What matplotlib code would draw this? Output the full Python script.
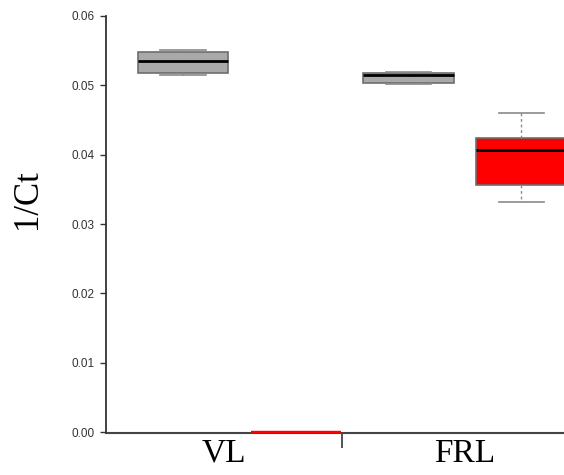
import matplotlib
matplotlib.use("Agg")
import matplotlib.pyplot as plt

# Data: five-number summaries (whisker low, Q1, median, Q3, whisker high)
groups = ["VL", "FRL"]
positions = [1, 2, 3, 4]
box_colors = ["#a9a9a9", "#ff0000", "#a9a9a9", "#ff0000"]
whislo = [0.05154, 0.0, 0.05015, 0.03322]
q1 = [0.05178, 0.0, 0.05038, 0.03563]
med = [0.05351, 0.0, 0.05145, 0.04068]
q3 = [0.05481, 0.0, 0.05174, 0.04245]
whishi = [0.05505, 0.0, 0.05197, 0.04606]
yticks = [0.00, 0.01, 0.02, 0.03, 0.04, 0.05, 0.06]
group_label_pos = [1.364, 3.50]
divider_pos = [2.41]

W, H = 564, 475
fig = plt.figure(figsize=(W / 100, H / 100), dpi=100)
ax = fig.add_axes([106 / W, (H - 435.5) / H, (W - 106) / W, 423 / H])

for i, p in enumerate(positions):
    stats = [dict(whislo=whislo[i], q1=q1[i], med=med[i], q3=q3[i],
                  whishi=whishi[i], fliers=[])]
    zero = q3[i] == q1[i] == 0
    ax.bxp(stats, positions=[p], widths=0.8, patch_artist=True,
           showfliers=False, capwidths=0.4,
           boxprops=dict(facecolor=box_colors[i],
                         edgecolor=box_colors[i] if zero else "#6e6e6e",
                         linewidth=1.2 if not zero else 1.6),
           medianprops=dict(color=box_colors[i] if zero else "black",
                            linewidth=2.0 if not zero else 1.6),
           whiskerprops=dict(color="#8a8a8a", linestyle=(0, (2, 2)), linewidth=1.0),
           capprops=dict(color="#8a8a8a", linewidth=1.2),
           manage_ticks=False, zorder=3)

ax.set_xlim(0.317, 4.38)
ax.set_ylim(-0.0005, 0.0605)

for s in ["top", "right"]:
    ax.spines[s].set_visible(False)
ax.spines["left"].set_bounds(0, 0.06)
ax.spines["left"].set_color("#333333")
ax.spines["left"].set_linewidth(1.3)
ax.spines["bottom"].set_position(("data", -0.00012))
ax.spines["bottom"].set_color("#444444")
ax.spines["bottom"].set_linewidth(1.5)
ax.spines["bottom"].set_zorder(2)

ax.set_yticks(yticks)
ax.set_yticklabels([f"{v:.2f}" for v in yticks], family="Liberation Sans",
                   fontsize=8.5, color="#333333")
ax.tick_params(axis="y", length=4.5, width=1.0, color="#333333", pad=4)

ax.set_xticks(group_label_pos)
ax.set_xticklabels(groups, family="Liberation Serif", fontsize=24)
ax.set_xticks(divider_pos, minor=True)
ax.tick_params(axis="x", which="major", length=0, pad=4)
ax.tick_params(axis="x", which="minor", length=10.5, width=1.2, color="#333333")

ax.set_ylabel("1/Ct", family="Liberation Serif", fontsize=25,
              va="center", ha="center")
ax.yaxis.set_label_coords(-0.172, 0.559)

fig.savefig("out.png", dpi=100)
